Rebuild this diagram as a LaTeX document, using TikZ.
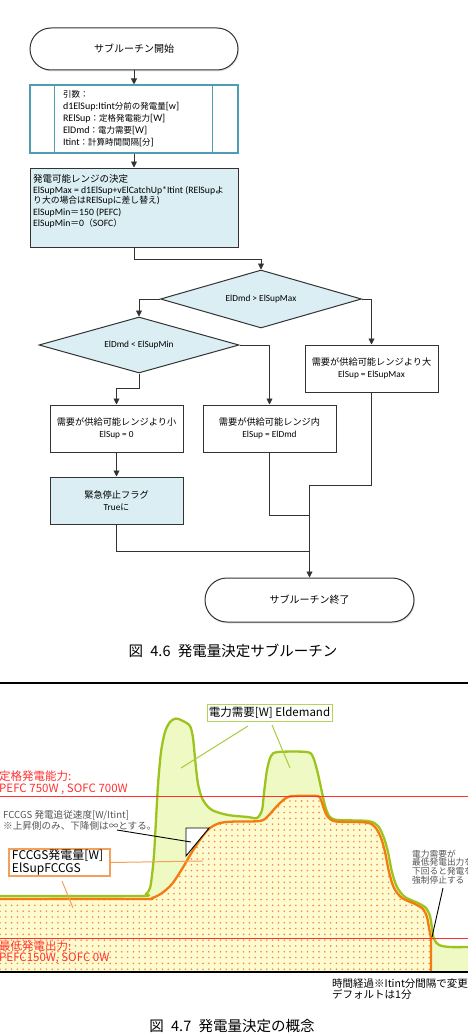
\documentclass[tikz,border=0pt]{standalone}
\usepackage{fontspec}
\setmainfont{Carlito}
\newfontfamily\jp{Noto Sans CJK JP}
\usetikzlibrary{shapes.geometric,arrows.meta,patterns.meta,shadows,calc}

\definecolor{tealb}{HTML}{4F9DB0}
\definecolor{lblue}{HTML}{DAEEF3}
\definecolor{lineg}{HTML}{333333}
\definecolor{dgreen}{HTML}{9DC41E}
\definecolor{lgreen}{HTML}{EEF9C4}
\definecolor{orng}{HTML}{F57A10}
\definecolor{lorng}{HTML}{F5A05A}
\definecolor{dots}{HTML}{F08A3A}
\definecolor{lyel}{HTML}{FFFBD0}
\definecolor{redl}{HTML}{FF3030}
\definecolor{gtext}{HTML}{555555}
\definecolor{gbox}{HTML}{B2D45A}
\definecolor{gleader}{HTML}{A8CC3A}

\newcommand\jsa[1]{{\jp\fontsize{8.5}{12}\selectfont #1}}
\newcommand\jsb[1]{{\jp\fontsize{8.8}{11.5}\selectfont #1}}

\begin{document}
\begin{tikzpicture}[x=1pt,y=-1pt,
  shapeline/.style={draw=lineg, line width=1pt},
  term/.style={shapeline, fill=white, minimum width=208pt, inner sep=0pt,
     drop shadow={opacity=0.2,shadow xshift=1pt,shadow yshift=-1.5pt},
     font=\jp\fontsize{10}{12}\selectfont},
  decision/.style={shapeline, diamond, fill=lblue, aspect=3.5, inner sep=0pt,
     font=\fontsize{9.3}{11}\selectfont},
  outbox/.style={shapeline, fill=white, minimum width=133pt, minimum height=47pt,
     inner sep=0pt, align=center, font=\fontsize{9.3}{12}\selectfont},
  flow/.style={draw=lineg, line width=0.9pt},
  arr/.style={flow, -{Triangle[width=6pt,length=6pt]}},
  chtext/.style={inner sep=0pt, align=left},
]
\useasboundingbox (0,0) rectangle (468,1033);
\clip (0,0) rectangle (468,1033);
\fill[white] (0,0) rectangle (468,1033);

% ---------------- flowchart ----------------
\node[term, rounded corners=21pt, minimum height=42pt] (start) at (134,49) {サブルーチン開始};

\node[draw=tealb, line width=1.1pt, minimum width=208pt, minimum height=68pt,
      inner sep=0pt, align=left, text width=142pt,
      font=\fontsize{10}{12}\selectfont] (pp) at (134,119)
  {\jsa{引数：}\\
   d1ElSup:Itint\jsa{分前の発電量}[w]\\
   RElSup\jsa{：定格発電能力}[W]\\
   ElDmd\jsa{：電力需要}[W]\\
   Itint\jsa{：計算時間間隔}[\jsa{分}]};
\draw[draw=tealb, line width=1.1pt] ($(pp.north west)+(25,0)$) -- ($(pp.south west)+(25,0)$);
\draw[draw=tealb, line width=1.1pt] ($(pp.north east)+(-26,0)$) -- ($(pp.south east)+(-26,0)$);

\node[shapeline, fill=lblue, minimum width=208pt, minimum height=79pt, inner sep=0pt] (proc) at (134,207.5) {};
\node[anchor=north west, inner sep=0pt, align=left, font=\fontsize{9.7}{11.5}\selectfont] (proct) at (33,174)
  {{\jp\fontsize{9.5}{11.5}\selectfont 発電可能レンジの決定}\\
   ElSupMax = d1ElSup+vElCatchUp*Itint (RElSup\jsb{よ}\\[-1.5pt]
   \jsb{り大の場合は}RElSup\jsb{に差し替え})\\
   ElSupMin\jsb{＝}150 (PEFC)\\
   ElSupMin\jsb{＝}0\jsb{（}SOFC\jsb{）}};

\node[decision, minimum width=201pt, minimum height=58pt] (d1) at (261,299) {ElDmd > ElSupMax};
\node[decision, minimum width=200pt, minimum height=56pt] (d2) at (139,345) {ElDmd < ElSupMin};

\node[outbox] (bmax) at (371.5,368.5) {{\jp\fontsize{9.2}{12}\selectfont 需要が供給可能レンジより大}\\ElSup = ElSupMax};
\node[outbox] (bmin) at (116.5,428.5) {{\jp\fontsize{9.2}{12}\selectfont 需要が供給可能レンジより小}\\ElSup = 0};
\node[outbox] (bin) at (269.5,428.5) {{\jp\fontsize{9.2}{12}\selectfont 需要が供給可能レンジ内}\\ElSup = ElDmd};
\node[outbox, fill=lblue] (bstop) at (116.5,500.5) {{\jp\fontsize{9.2}{12}\selectfont 緊急停止フラグ}\\True{\jp\fontsize{8.8}{12}\selectfont に}};

\node[term, rounded corners=22pt, minimum width=209pt, minimum height=44pt] (end) at (309.5,600) {サブルーチン終了};

\coordinate (j1) at (309.5,515);
\coordinate (j2) at (309.5,551);

\draw[arr] (start.south) -- (pp.north);
\draw[arr] (pp.south) -- (proc.north);
\draw[arr] (proc.south) -- ++(0,12) -| (d1.north);
\draw[arr] (d1.west) -| (d2.north);
\draw[arr] (d1.east) -| (bmax.north);
\draw[arr] (d2.south) -- ++(0,15) -| (bmin.north);
\draw[arr] (d2.east) -| (bin.north);
\draw[arr] (bmin.south) -- (bstop.north);
\draw[flow] (bmax.south) -- ++(0,93) -| (j1);
\draw[flow] (bin.south) |- (j1);
\draw[flow] (bstop.south) |- (j2);
\draw[arr] (j1) -- (end.north);

\node[inner sep=0pt, font=\jp\fontsize{14.5}{16}\selectfont] (cap1) at (233,651) {図\hspace{0.5em}4.6\hspace{0.5em}発電量決定サブルーチン};

% ---------------- chart ----------------
% demand fill
\fill[lgreen] plot[smooth, tension=0.5] coordinates {
 (0,896) (138,896) (146,894) (150,888) (152,875) (154,855) (156,820) (158,785)
 (161,752) (165,732) (170,722) (176,718.5) (183,721) (190,726) (193,738) (195,758)
 (198,784) (203,800) (212,810) (228,815) (248,817) (257,818) (262,810) (264,793)
 (267,770) (271,756) (278,752) (307,752) (313,757) (317,770) (320,783) (323,797)
 (326,809) (330,817) (338,820) (368,821) (378,826) (384,838) (388,852) (392,872)
 (397,887) (405,897) (418,903) (426,908) (430,916) (432,928) (434,939) (439,945)
 (450,947) (468,947)} -- (468,972) -- (0,972) -- cycle;

% supply fill
\path[pattern={Dots[distance=5.8pt,radius=0.9pt]}, pattern color=dots, preaction={fill=lyel}]
 plot[smooth, tension=0.5] coordinates {
 (0,899) (140,899) (152,898) (162,893) (172,884) (182,869) (192,852) (202,837)
 (210,828) (220,823) (235,821.5) (260,821) (268,816) (277,806) (286,798) (294,796)
 (317,796) (321,800) (324,809) (328,817) (336,821.5) (366,822.5) (375,827) (381,838)
 (385,852) (389,872) (394,888) (402,898) (415,904) (423,909) (427,917) (429,928)
 (431,938)} -- (431,972) -- (0,972) -- cycle;

% demand line
\draw[dgreen, line width=2.3pt, line join=round] plot[smooth, tension=0.5] coordinates {
 (0,896) (138,896) (146,894) (150,888) (152,875) (154,855) (156,820) (158,785)
 (161,752) (165,732) (170,722) (176,718.5) (183,721) (190,726) (193,738) (195,758)
 (198,784) (203,800) (212,810) (228,815) (248,817) (257,818) (262,810) (264,793)
 (267,770) (271,756) (278,752) (307,752) (313,757) (317,770) (320,783) (323,797)
 (326,809) (330,817) (338,820) (368,821) (378,826) (384,838) (388,852) (392,872)
 (397,887) (405,897) (418,903) (426,908) (430,916) (432,928) (434,939) (439,945)
 (450,947) (468,947)};

% supply line
\draw[orng, line width=2.3pt, line join=round] plot[smooth, tension=0.5] coordinates {
 (0,899) (140,899) (152,898) (162,893) (172,884) (182,869) (192,852) (202,837)
 (210,828) (220,823) (235,821.5) (260,821) (268,816) (277,806) (286,798) (294,796)
 (317,796) (321,800) (324,809) (328,817) (336,821.5) (366,822.5) (375,827) (381,838)
 (385,852) (389,872) (394,888) (402,898) (415,904) (423,909) (427,917) (429,928)
 (431,938)} -- (431,972);

% rated / minimum lines
\draw[redl, line width=0.9pt] (0,796) -- (468,796);
\draw[redl, line width=0.9pt] (0,938) -- (468,938);

% frame lines
\draw[black, line width=2pt] (0,683) -- (468,683);
\draw[black, line width=2pt] (0,972) -- (468,972);

% follow-rate triangle
\draw[black, line width=0.9pt, fill=white] (186,828) -- (209,828) -- (186,856) -- cycle;

% labels
\node[chtext, anchor=west, text=redl, font=\jp\fontsize{11.5}{12}\selectfont] (rated) at (-1,783)
  {定格発電能力:\\PEFC 750W , SOFC 700W};
\node[chtext, anchor=west, text=redl, font=\jp\fontsize{11.5}{11.5}\selectfont] (minout) at (-1,952.5)
  {最低発電出力:\\PEFC150W, SOFC 0W};
\node[chtext, anchor=west, text=gtext, font=\jp\fontsize{9.6}{11}\selectfont] (rate) at (3,820.5)
  {FCCGS 発電追従速度[W/Itint]\\※上昇側のみ、下降側は∞とする。};

\node[draw=gbox, line width=1pt, fill=white, minimum width=125pt, minimum height=17pt,
      inner sep=0pt, font=\jp\fontsize{11.5}{12}\selectfont] (dlab) at (269.5,712.5) {電力需要[W] Eldemand};

\node[draw=lorng, line width=1.2pt, fill=white, text width=95pt, inner xsep=3pt, inner ysep=0pt,
      minimum height=27pt, align=left, font=\jp\fontsize{12}{13}\selectfont] (flab) at (59.5,862.5)
  {FCCGS発電量[W]\\ElSupFCCGS};

\node[chtext, anchor=north west, text=gtext, font=\jp\fontsize{8.7}{8.7}\selectfont] (stopn) at (412,849.5)
  {電力需要が\\最低発電出力を\\下回ると発電を\\強制停止する};

\node[chtext, anchor=north west, font=\jp\fontsize{10.5}{10.5}\selectfont] (timen) at (332,978.5)
  {時間経過※Itint分間隔で変更\\デフォルトは1分};

% leaders
\coordinate (g1a) at (248,726); \coordinate (g1b) at (181,768);
\coordinate (g2a) at (272,725); \coordinate (g2b) at (290,768);
\draw[gleader, line width=1pt] (g1a) -- (g1b);
\draw[gleader, line width=1pt] (g2a) -- (g2b);
\coordinate (o1b) at (203,861); \coordinate (o2a) at (62,881); \coordinate (o2b) at (73,908);
\draw[lorng, line width=1pt] (flab.east) -- (o1b);
\draw[lorng, line width=1pt] (o2a) -- (o2b);
\coordinate (ra) at (117,830); \coordinate (rb) at (191,842);
\draw[black, line width=0.9pt] (ra) -- (rb);
\coordinate (sa) at (443,888); \coordinate (sb) at (432,937);
\draw[black, line width=0.9pt] (sa) -- (sb);

\node[inner sep=0pt, font=\jp\fontsize{14.5}{16}\selectfont] (cap2) at (232,1026) {図\hspace{0.5em}4.7\hspace{0.5em}発電量決定の概念};
\end{tikzpicture}
\end{document}
